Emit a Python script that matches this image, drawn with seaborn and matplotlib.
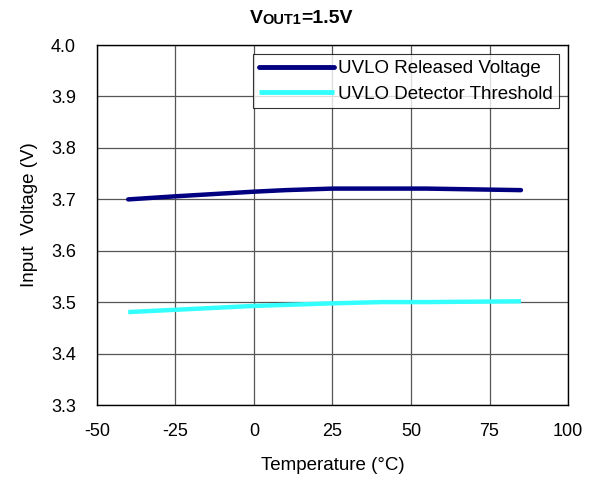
import pandas as pd
import numpy as np
import matplotlib
matplotlib.use("Agg")
import matplotlib.pyplot as plt
import seaborn as sns

# data
temp_released = [-40, -25, 0, 10, 25, 55, 85]
v_released = [3.700, 3.706, 3.715, 3.718, 3.721, 3.721, 3.718]

temp_detect = [-40, 0, 25, 41, 41, 56, 56, 85]
v_detect = [3.481, 3.493, 3.498, 3.502, 3.499, 3.502, 3.499, 3.502]

x_ticks = [-50, -25, 0, 25, 50, 75, 100]
y_ticks = [3.3, 3.4, 3.5, 3.6, 3.7, 3.8, 3.9, 4.0]

sns.set_style("white")
plt.rcParams['font.family'] = ['Liberation Sans', 'DejaVu Sans']
plt.rcParams.update({"text.color": "black", "axes.labelcolor": "black",
                     "xtick.color": "black", "ytick.color": "black"})

fig, ax = plt.subplots(figsize=(6.05, 4.79), dpi=100)
fig.subplots_adjust(left=0.16, right=0.939, bottom=0.154, top=0.906)

df1 = pd.DataFrame({"T": temp_released, "V": v_released})
df2 = pd.DataFrame({"T": temp_detect, "V": v_detect})
sns.lineplot(data=df1, x="T", y="V", color="#000080", linewidth=3.2, sort=False,
             ax=ax, label="UVLO Released Voltage", solid_capstyle="round")
sns.lineplot(data=df2, x="T", y="V", color="#33FFFF", linewidth=3.2, sort=False,
             ax=ax, label="UVLO Detector Threshold", solid_capstyle="butt")

ax.set_xlim(-50, 100)
ax.set_ylim(3.3, 4.0)
ax.set_xticks(x_ticks)
ax.set_yticks(y_ticks)
ax.set_xticklabels([str(t) for t in x_ticks])
ax.set_yticklabels([f"{t:.1f}" for t in y_ticks])
ax.tick_params(labelsize=13, direction="in", length=3, color="black")
ax.tick_params(axis="y", pad=15)
ax.tick_params(axis="x", pad=13)
ax.grid(True, color="#555555", linewidth=0.9)
for s in ax.spines.values():
    s.set_color("black")
    s.set_linewidth(1.0)

ax.set_xlabel("Temperature (°C)", fontsize=13.5)
ax.set_ylabel("Input  Voltage (V)", fontsize=13.5)
ax.xaxis.set_label_coords(0.5, -0.143)
ax.yaxis.set_label_coords(-0.125, 0.53)

leg = ax.legend(loc="upper right", fontsize=13.5, frameon=True, fancybox=False,
                handlelength=4.0, handletextpad=0.25, borderpad=0.3,
                labelspacing=0.45, borderaxespad=0.5)
leg.get_frame().set_edgecolor("black")
leg.get_frame().set_linewidth(0.8)
for h in leg.get_lines():
    h.set_linewidth(3.5)

# title with small-caps style subscript
t1 = fig.text(0.413, 0.952, "V", fontsize=14, fontweight="bold", va="baseline")
t2 = ax.annotate("OUT1", xy=(1, 0), xycoords=t1, fontsize=10.5, fontweight="bold",
                 va="bottom", ha="left")
t3 = ax.annotate("=1.5V", xy=(1, 0), xycoords=t2, fontsize=14, fontweight="bold",
                 va="bottom", ha="left")

fig.savefig("out.png", dpi=100)
